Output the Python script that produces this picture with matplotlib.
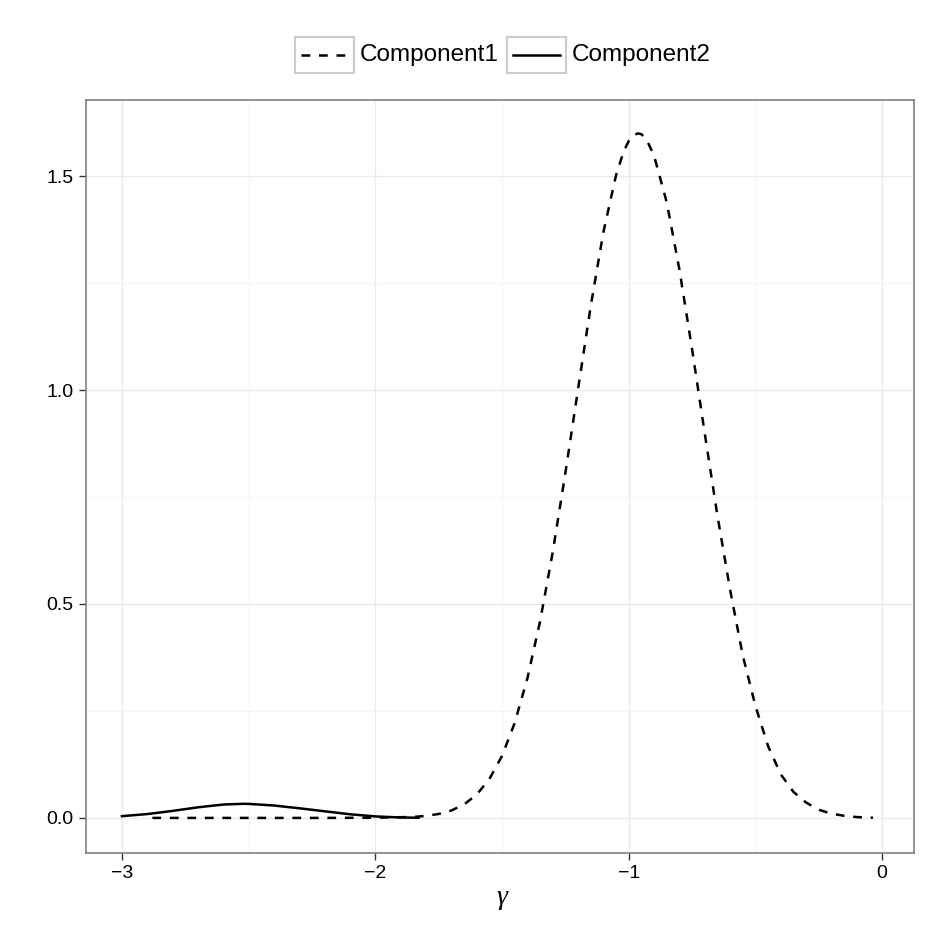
import matplotlib
matplotlib.use("Agg")
import matplotlib.pyplot as plt
from matplotlib.lines import Line2D
from matplotlib.patches import Rectangle

plt.rcParams["font.family"] = ["Liberation Sans", "DejaVu Sans"]

# values
comp1_x = [-2.88, -2.5, -2.2, -2.0, -1.85, -1.80, -1.75, -1.70, -1.65, -1.60, -1.55,
           -1.50, -1.45, -1.40, -1.35, -1.30, -1.25, -1.20, -1.15, -1.10, -1.05,
           -1.02, -1.00, -0.98, -0.963, -0.95, -0.93, -0.90, -0.85, -0.80, -0.75,
           -0.70, -0.65, -0.60, -0.55, -0.50, -0.45, -0.40, -0.35, -0.30, -0.25,
           -0.20, -0.15, -0.10, -0.036]
comp1_y = [0.0, 0.0, 0.0, 0.0005, 0.0023, 0.0047, 0.0092, 0.0173, 0.0314, 0.0545,
           0.0907, 0.145, 0.222, 0.326, 0.459, 0.621, 0.806, 1.002, 1.196, 1.369,
           1.502, 1.558, 1.582, 1.596, 1.600, 1.598, 1.586, 1.548, 1.439, 1.282,
           1.096, 0.899, 0.707, 0.534, 0.380, 0.262, 0.168, 0.102, 0.061, 0.036,
           0.019, 0.010, 0.005, 0.002, 0.0004]

comp2_x = [-3.0, -2.9, -2.8, -2.7, -2.6, -2.52, -2.5, -2.4, -2.3, -2.2, -2.1,
           -2.0, -1.9, -1.83]
comp2_y = [0.0041, 0.0090, 0.0164, 0.0248, 0.0313, 0.0330, 0.0328, 0.0290,
           0.0225, 0.0155, 0.0085, 0.0035, 0.0010, 0.0004]

x_ticks = [-3, -2, -1, 0]
x_tick_labels = ["\u22123", "\u22122", "\u22121", "0"]
y_ticks = [0.0, 0.5, 1.0, 1.5]
y_tick_labels = ["0.0", "0.5", "1.0", "1.5"]
legend_labels = ["Component1", "Component2"]

W = 925
fig = plt.figure(figsize=(9.25, 9.25), dpi=100)
ax = fig.add_axes([86 / W, 1 - 853 / W, 828 / W, 753 / W])

dash = (0, (3.5, 3.5))
ax.plot(comp1_x, comp1_y, color="black", lw=1.8, linestyle=dash, zorder=3)
ax.plot(comp2_x, comp2_y, color="black", lw=1.8, zorder=3)

ax.set_xlim(-3.142, 0.126)
ax.set_ylim(-0.082, 1.678)
ax.set_xticks(x_ticks)
ax.set_xticklabels(x_tick_labels)
ax.set_yticks(y_ticks)
ax.set_yticklabels(y_tick_labels)
ax.set_xticks([-2.5, -1.5, -0.5], minor=True)
ax.set_yticks([0.25, 0.75, 1.25], minor=True)

ax.grid(True, which="major", color="#ebebeb", lw=1.0)
ax.grid(True, which="minor", color="#f5f5f5", lw=1.0)
ax.tick_params(which="minor", length=0)
ax.tick_params(which="major", length=5, width=1.0, color="#333333",
               labelsize=14, labelcolor="black", pad=4)
ax.set_axisbelow(True)
for s in ax.spines.values():
    s.set_color("#7f7f7f")
    s.set_linewidth(1.2)

# axis title (gamma), serif like the reference
fig.text(502 / W, 1 - 898 / W, "\u03b3", fontsize=20, ha="center", va="center",
         family=["Liberation Serif", "DejaVu Serif"], style="italic")

# legend drawn as boxed keys like the reference
box_x = [295, 507]
text_x = [360, 572]
styles = [dash, "-"]
yc = 55
for bx, tx, st, lab in zip(box_x, text_x, styles, legend_labels):
    fig.add_artist(Rectangle((bx / W, 1 - 73 / W), 59 / W, 36 / W,
                             transform=fig.transFigure, fill=False,
                             edgecolor="#cccccc", lw=1.5))
    fig.add_artist(Line2D([(bx + 6) / W, (bx + 53) / W], [1 - yc / W, 1 - yc / W],
                          transform=fig.transFigure, color="black", lw=1.8,
                          linestyle=st))
    fig.text(tx / W, 1 - yc / W, lab, fontsize=17.5, va="center", ha="left")

fig.savefig("out.png", dpi=100)
